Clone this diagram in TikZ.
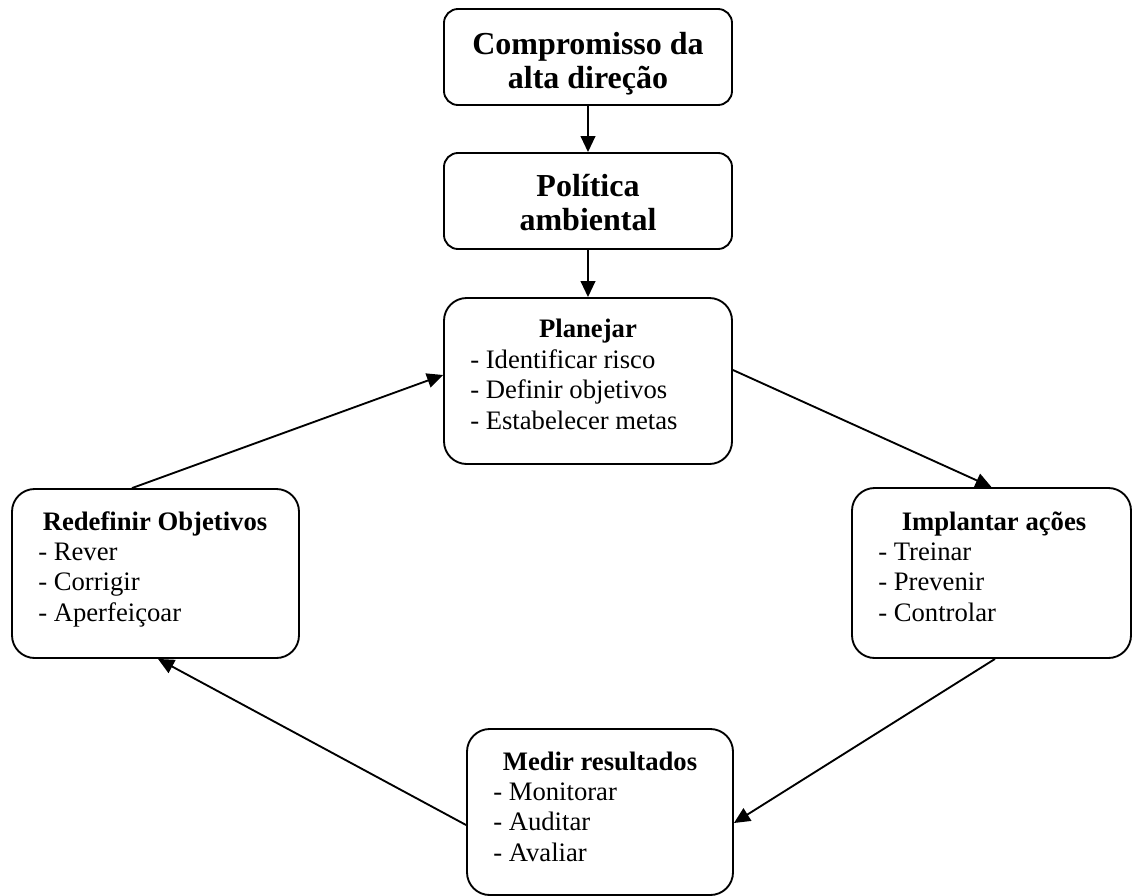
\documentclass[tikz,border=0pt]{standalone}
\usepackage{fontspec}
\setmainfont{Liberation Serif}
\usetikzlibrary{arrows.meta}
\begin{document}
\begin{tikzpicture}[x=0.75pt,y=-0.75pt,
  box/.style={draw, line width=1.4pt, inner sep=0pt},
  smallround/.style={rounded corners=10.5pt},
  biground/.style={rounded corners=17pt},
  conn/.style={line width=1.4pt, -{Triangle[length=12pt,width=11pt]}},
  headtext/.style={inner sep=0pt, anchor=base, font=\fontsize{24}{25.5}\selectfont\bfseries},
  titletext/.style={inner sep=0pt, anchor=base, font=\fontsize{20}{23}\selectfont\bfseries},
  listtext/.style={inner sep=0pt, anchor=base west, font=\fontsize{20}{23}\selectfont},
]
\useasboundingbox (0,0) rectangle (1132,896);

% boxes
\node[box, smallround, minimum width=216pt, minimum height=72pt] (b1) at (588,57) {};
\node[box, smallround, minimum width=216pt, minimum height=72pt] (b2) at (588,201) {};
\node[box, biground, minimum width=216pt, minimum height=124.5pt] (b3) at (588,381) {};
\node[box, biground, minimum width=209.25pt, minimum height=127.5pt] (b4) at (991.5,573) {};
\node[box, biground, minimum width=215.25pt, minimum height=126.75pt] (b5) at (155.5,573.5) {};
\node[box, biground, minimum width=199.5pt, minimum height=124.5pt] (b6) at (600,812) {};

% texts
\node[headtext] (b1t) at (588,54.5) {\begin{tabular}[t]{@{}c@{}}Compromisso da\\alta direção\end{tabular}};
\node[headtext] (b2t) at (588,196) {\begin{tabular}[t]{@{}c@{}}Política\\ambiental\end{tabular}};

\node[titletext] (b3t) at (588,337) {Planejar};
\node[listtext] (b3l) at (470,368) {\begin{tabular}[t]{@{}l@{}}- Identificar risco\\- Definir objetivos\\- Estabelecer metas\end{tabular}};

\node[titletext] (b4t) at (994,530) {Implantar ações};
\node[listtext] (b4l) at (878,560) {\begin{tabular}[t]{@{}l@{}}- Treinar\\- Prevenir\\- Controlar\end{tabular}};

\node[titletext] (b5t) at (155,530) {Redefinir Objetivos};
\node[listtext] (b5l) at (38,560) {\begin{tabular}[t]{@{}l@{}}- Rever\\- Corrigir\\- Aperfeiçoar\end{tabular}};

\node[titletext] (b6t) at (600,770) {Medir resultados};
\node[listtext] (b6l) at (493,800) {\begin{tabular}[t]{@{}l@{}}- Monitorar\\- Auditar\\- Avaliar\end{tabular}};

% connectors
\draw[conn] (b1) -- (b2);
\draw[conn] (b2) -- (b3);
\draw[conn] ([yshift=8.25pt]b3.east) -- (b4.north);
\draw[conn] ([xshift=2.6pt]b4.south) -- ([yshift=-8.25pt]b6.east);
\draw[conn] ([yshift=-9.75pt]b6.west) -- ([xshift=1.9pt]b5.south);
\draw[conn] ([xshift=-17.6pt]b5.north) -- ([yshift=4.5pt]b3.west);
\end{tikzpicture}
\end{document}
